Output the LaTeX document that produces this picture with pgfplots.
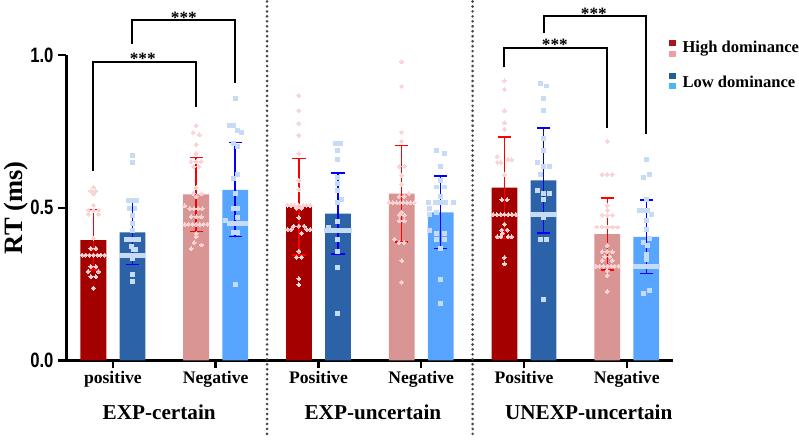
\documentclass[border=0pt]{standalone}
\usepackage{fontspec}
\setmainfont{Liberation Serif}
\newfontfamily\tickfont{Liberation Sans}[FakeStretch=0.8]
\usepackage{pgfplots}
\usepackage{pgfplotstable}
\pgfplotsset{compat=1.18}

\definecolor{hidark}{RGB}{165,0,0}
\definecolor{hilight}{RGB}{217,148,148}
\definecolor{lodark}{RGB}{43,98,168}
\definecolor{lolight}{RGB}{87,165,255}
\definecolor{ptred}{RGB}{250,212,212}
\definecolor{ptblue}{RGB}{198,220,246}
\definecolor{errred}{RGB}{255,0,0}
\definecolor{errblue}{RGB}{0,0,255}
\definecolor{divgray}{RGB}{70,70,70}
\definecolor{leghidark}{RGB}{170,20,30}
\definecolor{leghilight}{RGB}{240,160,165}
\definecolor{leglodark}{RGB}{30,95,155}
\definecolor{leglolight}{RGB}{75,185,240}

% means and SDs (cat 0/2/4 = positive, 1/3/5 = negative)
\pgfplotstableread{
cat mean sd
0 0.394 0.098
2 0.503 0.158
4 0.566 0.166
}\HighPosBars
\pgfplotstableread{
cat mean sd
0 0.419 0.105
2 0.481 0.133
4 0.590 0.172
}\LowPosBars
\pgfplotstableread{
cat mean sd
1 0.544 0.121
3 0.546 0.158
5 0.414 0.118
}\HighNegBars
\pgfplotstableread{
cat mean sd
1 0.559 0.154
3 0.485 0.119
5 0.405 0.121
}\LowNegBars

% individual participants (dx = horizontal jitter inside the bar)
\pgfplotstableread{
cat dx rt
0 0 0.568
0 -0.025 0.555
0 0.025 0.555
0 0 0.546
0 0 0.508
0 -0.05 0.492
0 0 0.492
0 0.05 0.492
0 -0.05 0.479
0 0.05 0.479
0 0 0.400
0 -0.025 0.367
0 0.025 0.367
0 -0.11 0.345
0 -0.073 0.345
0 -0.037 0.345
0 0 0.345
0 0.037 0.345
0 0.073 0.345
0 0.11 0.345
0 -0.025 0.307
0 0.025 0.307
0 -0.05 0.291
0 0.05 0.291
0 -0.025 0.274
0 0.025 0.274
0 0 0.237
2 0 0.868
2 0 0.818
2 0 0.777
2 0 0.738
2 0 0.678
2 0 0.590
2 0 0.559
2 -0.11 0.508
2 -0.075 0.508
2 -0.04 0.508
2 0 0.508
2 0.04 0.508
2 0.075 0.508
2 0.11 0.508
2 -0.025 0.499
2 0.025 0.499
2 0 0.468
2 -0.05 0.440
2 0 0.440
2 0.05 0.440
2 -0.11 0.429
2 -0.075 0.429
2 0.075 0.429
2 0.11 0.429
2 0.025 0.416
2 0 0.358
2 -0.025 0.338
2 0.025 0.338
2 0 0.267
2 0 0.248
4 0 0.917
4 0 0.888
4 0 0.818
4 0 0.778
4 0 0.758
4 -0.07 0.668
4 0.07 0.657
4 0.035 0.657
4 -0.07 0.649
4 -0.035 0.649
4 0 0.608
4 -0.025 0.526
4 0.025 0.526
4 -0.11 0.478
4 -0.073 0.478
4 -0.037 0.478
4 0 0.478
4 0.037 0.478
4 0.073 0.478
4 0.11 0.478
4 0 0.446
4 -0.025 0.427
4 0.025 0.427
4 -0.02 0.416
4 -0.07 0.405
4 -0.035 0.405
4 0.035 0.405
4 0.07 0.405
4 0 0.337
4 0 0.316
}\HighPosPts
\pgfplotstableread{
cat dx rt
0 0 0.671
0 0 0.647
0 -0.037 0.524
0 0 0.524
0 0.037 0.524
0 -0.025 0.497
0 0.025 0.497
0 0 0.476
0 0 0.448
0 0 0.427
0 -0.06 0.396
0 -0.02 0.396
0 0.02 0.396
0 0.06 0.396
0 -0.01 0.372
0 0.01 0.362
0 0.03 0.362
0 -0.11 0.345
0 -0.073 0.345
0 -0.037 0.345
0 0 0.345
0 0.037 0.345
0 0.073 0.345
0 0.11 0.345
0 0 0.334
0 0 0.280
0 0 0.258
2 -0.02 0.709
2 0.02 0.709
2 0 0.687
2 0 0.657
2 0 0.600
2 0 0.579
2 0 0.557
2 0.03 0.528
2 0 0.517
2 0 0.456
2 -0.09 0.437
2 -0.11 0.427
2 -0.073 0.427
2 -0.037 0.427
2 0 0.427
2 0.037 0.427
2 0.073 0.427
2 0.11 0.427
2 0 0.396
2 0 0.356
2 0 0.305
2 0 0.155
4 -0.03 0.907
4 0.03 0.899
4 0 0.858
4 0 0.818
4 0 0.727
4 0 0.687
4 -0.06 0.649
4 0 0.636
4 0.06 0.636
4 -0.03 0.608
4 -0.06 0.557
4 0 0.546
4 0.06 0.546
4 0 0.526
4 -0.11 0.478
4 -0.073 0.478
4 -0.037 0.478
4 0 0.478
4 0.037 0.478
4 0.073 0.478
4 0.11 0.478
4 0 0.468
4 -0.025 0.397
4 0.025 0.397
4 0 0.199
}\LowPosPts
\pgfplotstableread{
cat dx rt
1 0 0.769
1 -0.03 0.747
1 0.03 0.739
1 0 0.707
1 0 0.678
1 -0.05 0.651
1 0 0.651
1 0.05 0.651
1 -0.025 0.635
1 0.025 0.635
1 0 0.566
1 -0.03 0.546
1 0.05 0.546
1 0 0.537
1 -0.11 0.506
1 -0.06 0.497
1 -0.02 0.497
1 0.02 0.497
1 0.06 0.497
1 -0.05 0.470
1 0 0.470
1 0.05 0.470
1 -0.11 0.446
1 -0.073 0.446
1 -0.037 0.446
1 0 0.446
1 0.037 0.446
1 0.073 0.446
1 0.11 0.446
1 0 0.416
1 0 0.405
1 -0.02 0.386
1 0.05 0.378
1 -0.05 0.366
3 0 0.978
3 0 0.898
3 0 0.748
3 0 0.718
3 -0.025 0.636
3 0.025 0.636
3 0 0.606
3 0 0.577
3 0.07 0.546
3 -0.025 0.537
3 0.025 0.537
3 -0.12 0.517
3 -0.085 0.517
3 -0.05 0.517
3 -0.015 0.517
3 0.015 0.517
3 0.05 0.517
3 0.085 0.517
3 0.12 0.517
3 0 0.486
3 -0.025 0.476
3 0.025 0.476
3 -0.025 0.457
3 0.025 0.457
3 -0.07 0.397
3 -0.025 0.386
3 0.025 0.386
3 0 0.327
3 0 0.256
5 0 0.718
5 -0.05 0.609
5 0 0.609
5 0.05 0.609
5 0 0.508
5 0 0.492
5 -0.05 0.476
5 0 0.476
5 0.05 0.476
5 -0.1 0.437
5 -0.05 0.437
5 0 0.437
5 0.05 0.437
5 0.1 0.437
5 0 0.376
5 -0.05 0.356
5 0 0.356
5 0.05 0.356
5 -0.025 0.340
5 0.025 0.340
5 -0.05 0.327
5 0.05 0.327
5 -0.11 0.309
5 -0.073 0.309
5 -0.037 0.309
5 0 0.309
5 0.037 0.309
5 0.073 0.309
5 0.11 0.309
5 0 0.294
5 0 0.278
5 0 0.226
}\HighNegPts
\pgfplotstableread{
cat dx rt
1 0 0.859
1 -0.06 0.771
1 -0.02 0.771
1 0.02 0.754
1 0.06 0.746
1 -0.02 0.711
1 0.02 0.701
1 0.02 0.609
1 -0.02 0.597
1 0 0.546
1 -0.02 0.499
1 0.02 0.499
1 0.02 0.468
1 -0.09 0.459
1 -0.06 0.448
1 -0.02 0.448
1 0.02 0.448
1 0.06 0.448
1 0.1 0.448
1 -0.02 0.418
1 0.02 0.418
1 0 0.248
3 -0.04 0.687
3 0.04 0.678
3 0 0.636
3 0 0.590
3 -0.04 0.568
3 0.04 0.568
3 0 0.537
3 -0.12 0.517
3 -0.05 0.517
3 0 0.517
3 0.05 0.517
3 0.12 0.517
3 -0.11 0.497
3 -0.04 0.486
3 -0.11 0.479
3 -0.11 0.427
3 -0.04 0.416
3 0.04 0.416
3 -0.04 0.396
3 0.04 0.396
3 0 0.365
3 0 0.266
3 0 0.186
5 0 0.657
5 0.03 0.609
5 -0.03 0.598
5 0 0.528
5 -0.07 0.490
5 -0.03 0.490
5 0.01 0.490
5 0.05 0.478
5 0 0.459
5 0 0.429
5 0.03 0.400
5 -0.03 0.386
5 0.01 0.375
5 0 0.347
5 0 0.329
5 -0.11 0.309
5 -0.073 0.309
5 -0.037 0.309
5 0 0.309
5 0.037 0.309
5 0.073 0.309
5 0.11 0.309
5 0.03 0.229
5 -0.03 0.218
}\LowNegPts

\pgfplotsset{
  rtbar/.style={ybar, bar width=19.5pt, bar shift=0pt, draw=none,
    /pgfplots/error bars/y dir=both,
    /pgfplots/error bars/y explicit,
    /pgfplots/error bars/error bar style={line width=1.1pt, color=#1, draw=#1},
    /pgfplots/error bars/error mark options={rotate=90, color=#1, draw=#1, mark size=5pt, line width=1.1pt}},
  redpts/.style={only marks, mark=*, mark size=1.5pt, color=ptred,
    mark options={fill=ptred, draw=ptred, line width=0pt}},
  bluepts/.style={only marks, mark=square*, mark size=1.5pt, color=ptblue,
    mark options={fill=ptblue, draw=ptblue, line width=0pt}},
}

\begin{document}
\begin{tikzpicture}
\begin{axis}[
  scale only axis, width=457.5pt, height=230.25pt,
  xmin=-0.455, xmax=5.445, ymin=0, ymax=1,
  axis x line*=bottom, axis y line*=left,
  axis line style={line width=2.25pt, black},
  tick align=outside, major tick length=6pt,
  tick style={line width=1.8pt, black},
  xtick={0,1,2,3,4,5},
  xticklabels={positive,Negative,Positive,Negative,Positive,Negative},
  xticklabel style={font=\fontsize{13.3}{15}\selectfont\bfseries, yshift=1.5pt},
  ytick={0,0.5,1}, yticklabels={0.0,0.5,1.0},
  yticklabel style={font=\fontsize{15.7}{17}\selectfont\tickfont\bfseries},
  ylabel={RT (ms)},
  ylabel style={at={([xshift=-37.5pt]rel axis cs:0,0.5)}, anchor=center,
    font=\fontsize{20}{22}\selectfont\bfseries},
  clip=false,
]
% bars with SD
\addplot[fill=hidark, rtbar=errred] table[x expr=\thisrow{cat}-0.19, y=mean, y error=sd] {\HighPosBars};
\addplot[fill=lodark, rtbar=errblue] table[x expr=\thisrow{cat}+0.19, y=mean, y error=sd] {\LowPosBars};
\addplot[fill=hilight, rtbar=errred] table[x expr=\thisrow{cat}-0.19, y=mean, y error=sd] {\HighNegBars};
\addplot[fill=lolight, rtbar=errblue] table[x expr=\thisrow{cat}+0.19, y=mean, y error=sd] {\LowNegBars};
% participants
\addplot[redpts] table[x expr=\thisrow{cat}-0.19+\thisrow{dx}, y=rt] {\HighPosPts};
\addplot[bluepts] table[x expr=\thisrow{cat}+0.19+\thisrow{dx}, y=rt] {\LowPosPts};
\addplot[redpts] table[x expr=\thisrow{cat}-0.19+\thisrow{dx}, y=rt] {\HighNegPts};
\addplot[bluepts] table[x expr=\thisrow{cat}+0.19+\thisrow{dx}, y=rt] {\LowNegPts};

% condition separators
\draw[divgray, line width=2.2pt, line cap=round, dash pattern=on 0pt off 3.75pt]
  (axis cs:1.5,1.176) -- (axis cs:1.5,-0.257);
\draw[divgray, line width=2.2pt, line cap=round, dash pattern=on 0pt off 3.75pt]
  (axis cs:3.5,1.176) -- (axis cs:3.5,-0.257);

% condition names
\path[font=\fontsize{16}{18}\selectfont\bfseries]
  (axis cs:0.45,-0.195) node[anchor=base] {EXP-certain}
  (axis cs:2.53,-0.195) node[anchor=base] {EXP-uncertain}
  (axis cs:4.63,-0.195) node[anchor=base] {UNEXP-uncertain};

% significance brackets
\begin{scope}[line width=1.5pt, black]
\draw (axis cs:-0.19,0.622) |- (axis cs:0.81,0.978) -- (axis cs:0.81,0.831);
\draw (axis cs:0.19,1.036) |- (axis cs:1.19,1.114) -- (axis cs:1.19,0.909);
\draw (axis cs:3.81,0.961) |- (axis cs:4.81,1.024) -- (axis cs:4.81,0.763);
\draw (axis cs:4.19,1.073) |- (axis cs:5.19,1.127) -- (axis cs:5.19,0.741);
\end{scope}
\path[font=\fontsize{13}{15}\selectfont\bfseries]
  (axis cs:0.29,0.978) node[anchor=base, yshift=-2pt] {***}
  (axis cs:0.69,1.114) node[anchor=base, yshift=-2pt] {***}
  (axis cs:4.30,1.024) node[anchor=base, yshift=-2pt] {***}
  (axis cs:4.68,1.127) node[anchor=base, yshift=-2pt] {***};

% legend
\fill[leghidark] (axis cs:5.406,1.049) rectangle ([xshift=5.5pt, yshift=-4.5pt]axis cs:5.406,1.049);
\fill[leghilight] ([yshift=-8.25pt]axis cs:5.406,1.049) rectangle ([xshift=5.5pt, yshift=-12.75pt]axis cs:5.406,1.049);
\node[anchor=west, font=\fontsize{12.5}{14}\selectfont\bfseries, inner sep=0pt]
  at (axis cs:5.54,1.020) {High dominance};
\fill[leglodark] (axis cs:5.406,0.941) rectangle ([xshift=5.5pt, yshift=-4.5pt]axis cs:5.406,0.941);
\fill[leglolight] ([yshift=-7.5pt]axis cs:5.406,0.941) rectangle ([xshift=5.5pt, yshift=-12pt]axis cs:5.406,0.941);
\node[anchor=west, font=\fontsize{12.5}{14}\selectfont\bfseries, inner sep=0pt]
  at (axis cs:5.54,0.912) {Low dominance};

% picture frame
\path ([xshift=-46.5pt, yshift=40.5pt]rel axis cs:0,1)
  rectangle ([xshift=95.25pt, yshift=-59.25pt]rel axis cs:1,0);
\end{axis}
\end{tikzpicture}
\end{document}
